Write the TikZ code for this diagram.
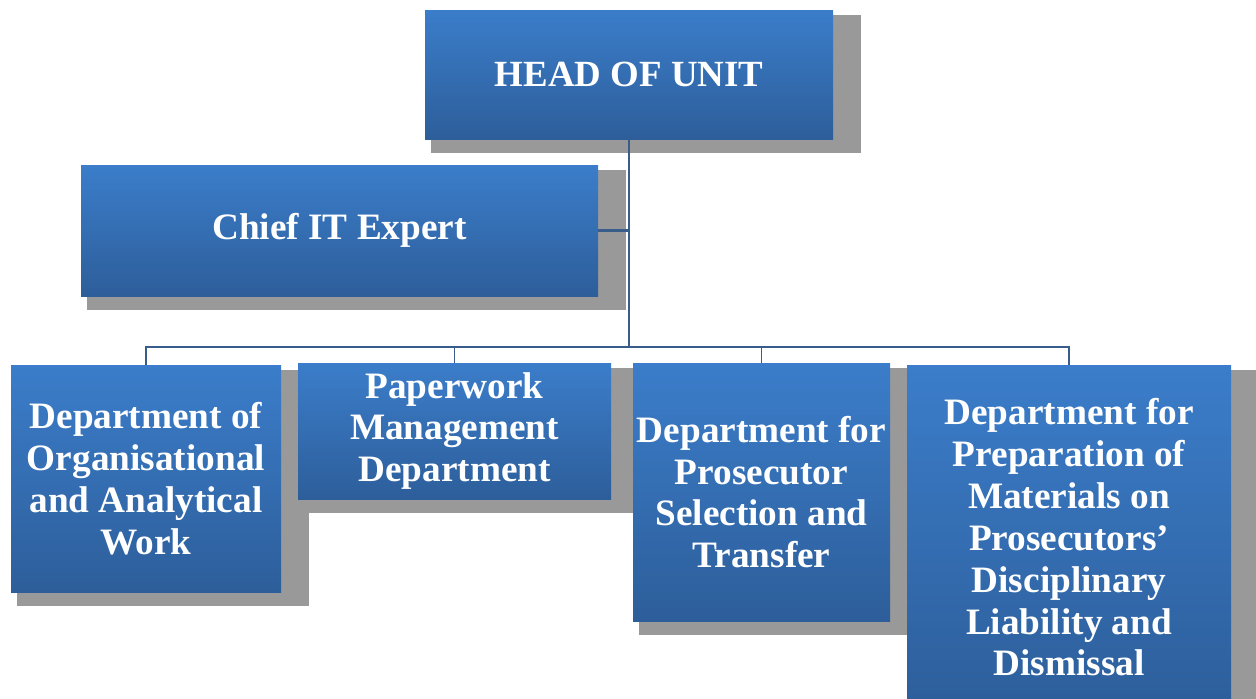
\documentclass[tikz,border=0pt]{standalone}
\usepackage{fontspec}
\setmainfont{Liberation Serif}
\usetikzlibrary{calc,backgrounds}

\definecolor{boxtop}{RGB}{59,125,202}
\definecolor{boxbot}{RGB}{45,94,154}
\definecolor{linkcol}{RGB}{56,93,138}

\tikzset{
	unitbox/.style={rectangle, inner sep=0pt, top color=boxtop, bottom color=boxbot,
		text=white, align=center, font=\bfseries\fontsize{21.2}{23.8}\selectfont},
	boxshadow/.style={fill=black!40},
	link/.style={draw=linkcol, line width=1.2pt},
	bus/.style={draw=linkcol, line width=0.8pt}
}

\begin{document}
\begin{tikzpicture}
		\clip (0,0) rectangle (25.12,-13.96);
		\useasboundingbox (0,0) rectangle (25.12,-13.96);
		\node[unitbox, minimum width=8.16cm, minimum height=2.58cm,
			font=\bfseries\fontsize{21}{26}\selectfont] (head) at (12.58,-1.49) {HEAD OF UNIT};
		\node[unitbox, minimum width=10.34cm, minimum height=2.62cm] (chief) at (6.79,-4.61) {Chief IT Expert};
		\node[unitbox, minimum width=5.40cm, minimum height=4.54cm] (org) at (2.92,-9.57)
			{Department of\\Organisational\\and Analytical\\Work};
		\node[unitbox, minimum width=6.26cm, minimum height=2.72cm] (paper) at (9.09,-8.62)
			{Paperwork\\Management\\Department};
		\node[unitbox, minimum width=5.14cm, minimum height=5.16cm] (pros) at (15.23,-9.84)
			{Department for\\Prosecutor\\Selection and\\Transfer};
		\node[unitbox, minimum width=6.48cm, minimum height=6.90cm] (prep) at (21.38,-10.75)
			{Department for\\Preparation of\\Materials on\\Prosecutors'\\Disciplinary\\Liability and\\Dismissal};
		% shadows and lines
		\begin{scope}[on background layer]
			\foreach \n in {head,chief,org,paper,pros,prep}
				\fill[boxshadow] ($(\n.north west)+(0.12,-0.1)$) rectangle ($(\n.south east)+(0.56,-0.28)$);
		\end{scope}
		\coordinate (busmid) at (head.south |- 0,-6.94);
		\draw[link] (head.south) -- (busmid);
		\draw[link] (chief.east) -- (chief.east -| head.south);
		\draw[bus] (org.north) |- (busmid) -| (prep.north);
		\draw[bus] (paper.north) |- (busmid);
		\draw[bus] (pros.north) |- (busmid);
	\end{tikzpicture}
\end{document}
